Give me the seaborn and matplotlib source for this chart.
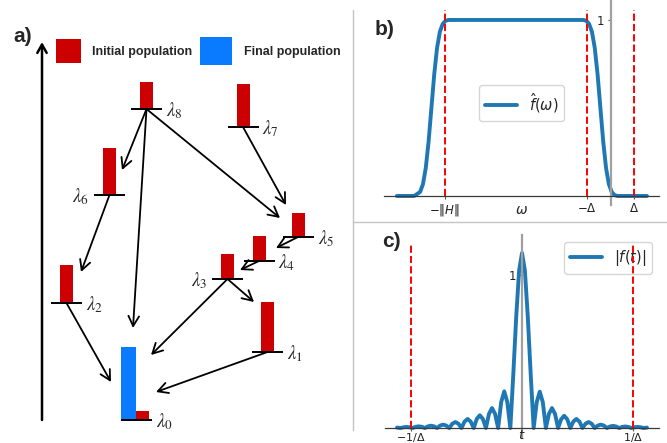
import matplotlib
matplotlib.use("Agg")
import matplotlib.pyplot as plt
from matplotlib.lines import Line2D
from matplotlib.patches import Rectangle
import seaborn as sns

# ---------------- data ----------------
# panel a: population of each eigenlevel (bar height, final ground state = 1)
level_labels = [r'$\lambda_0$', r'$\lambda_1$', r'$\lambda_2$', r'$\lambda_3$', r'$\lambda_4$',
                r'$\lambda_5$', r'$\lambda_6$', r'$\lambda_7$', r'$\lambda_8$']
initial_population = [0.12, 0.68, 0.52, 0.34, 0.34, 0.33, 0.64, 0.59, 0.37]
final_population_ground = 1.0
# decay channels (from level, to level)
transitions = [(8, 6), (8, 0), (8, 5), (7, 5), (6, 2), (2, 0), (5, 4), (4, 3), (3, 0), (3, 1), (1, 0)]

# panel b: filter in frequency domain
omega = [-9.09, -8.40, -8.34, -8.10, -7.98, -7.86, -7.74, -7.62, -7.50, -7.38, -7.26, -7.14,
         -7.02, -6.90, -1.15, -1.03, -0.91, -0.79, -0.67, -0.55, -0.43, -0.31, -0.19, -0.07,
         0.05, 0.17, 0.29, 1.55]
f_hat = [0.0, 0.0, 0.001, 0.023, 0.067, 0.159, 0.309, 0.5, 0.691, 0.841, 0.933, 0.977,
         0.995, 1.0, 1.0, 0.995, 0.977, 0.933, 0.841, 0.691, 0.5, 0.309, 0.159, 0.067,
         0.023, 0.005, 0.0, 0.0]
norm_H = 7.05
Delta = 1.0
omega_ticks = [-norm_H, -Delta, Delta]
omega_ticklabels = [r'$-\|H\|$', r'$-\Delta$', r'$\Delta$']

# panel c: modulus of the filter in time domain (t in units of 1/Delta)
t = [-1.126, -1.095, -1.0675, -1.040, -1.0125, -0.985, -0.9575, -0.930, -0.9025, -0.875,
     -0.8475, -0.820, -0.7925, -0.765, -0.7375, -0.710, -0.6825, -0.655, -0.6275, -0.600,
     -0.5725, -0.545, -0.5175, -0.490, -0.4625, -0.435, -0.4075, -0.380, -0.3525, -0.325,
     -0.2975, -0.270, -0.2425, -0.215, -0.1875, -0.160, -0.1325, -0.105, -0.079, -0.052,
     -0.026, 0.0,
     0.026, 0.052, 0.079, 0.105, 0.1325, 0.160, 0.1875, 0.215, 0.2425, 0.270,
     0.2975, 0.325, 0.3525, 0.380, 0.4075, 0.435, 0.4625, 0.490, 0.5175, 0.545,
     0.5725, 0.600, 0.6275, 0.655, 0.6825, 0.710, 0.7375, 0.765, 0.7925, 0.820,
     0.8475, 0.875, 0.9025, 0.930, 0.9575, 0.985, 1.0125, 1.040, 1.0675, 1.095, 1.126]
abs_f = [0.003, 0.0, 0.005, 0.007, 0.005, 0.0, 0.008, 0.011, 0.008, 0.0,
         0.011, 0.015, 0.011, 0.0, 0.016, 0.022, 0.016, 0.0, 0.028, 0.039,
         0.028, 0.0, 0.042, 0.059, 0.042, 0.0, 0.059, 0.083, 0.059, 0.0,
         0.092, 0.130, 0.092, 0.0, 0.169, 0.239, 0.169, 0.0, 0.342, 0.726,
         1.026, 1.14,
         1.026, 0.726, 0.342, 0.0, 0.168, 0.237, 0.168, 0.0, 0.092, 0.130,
         0.092, 0.0, 0.057, 0.080, 0.057, 0.0, 0.042, 0.059, 0.042, 0.0,
         0.028, 0.039, 0.028, 0.0, 0.016, 0.022, 0.016, 0.0, 0.010, 0.014,
         0.010, 0.0, 0.007, 0.010, 0.007, 0.0, 0.005, 0.007, 0.005, 0.0, 0.003]
t_ticks = [-1 / Delta, 1 / Delta]
t_ticklabels = [r'$-1/\Delta$', r'$1/\Delta$']

# ---------------- style ----------------
sns.set_style("white")
plt.rcParams['font.family'] = ['DejaVu Sans']
plt.rcParams['mathtext.fontset'] = 'dejavusans'

RED = '#cc0000'
BLUE = '#0a7aff'
LINE = '#1f77b4'
W, H = 667, 443

fig = plt.figure(figsize=(W / 100, H / 100), dpi=100)

# ---------------- panel a ----------------
ax_a = fig.add_axes([0, 0, 352 / W, 1])
ax_a.set_xlim(0, 352)
ax_a.set_ylim(0, H)
ax_a.axis('off')

# diagram layout: horizontal centre and energy of each level
level_x = [136, 267.5, 66.5, 227.5, 259, 298, 109.5, 243, 146.5]
level_e = [23, 91, 140, 164, 182, 206, 248, 316, 334]
label_left = [False, False, False, True, False, False, True, False, False]
arrow_tips = [(122, 273), (133, 115), (280, 225), (286, 238), (81, 171), (111, 61),
              (276, 195), (240, 173), (151, 88), (254, 141), (156, 51)]
bar_scale = 73
half_len = 15.5

# initial population bars (ground state bar sits right of centre, final bar left)
bar_x = [x + (6.5 if i == 0 else 0) for i, x in enumerate(level_x)]
ax_a.bar(bar_x, [p * bar_scale for p in initial_population], width=13,
         bottom=level_e, color=RED, zorder=2, linewidth=0)
ax_a.bar([level_x[0] - 7.5], [final_population_ground * bar_scale], width=15,
         bottom=[level_e[0]], color=BLUE, zorder=2, linewidth=0)

ax_a.hlines(level_e, [x - half_len for x in level_x], [x + half_len for x in level_x],
            color='black', lw=1.4, zorder=3)

for i, lab in enumerate(level_labels):
    if label_left[i]:
        ax_a.text(level_x[i] - half_len - 5, level_e[i] - 2, lab, ha='right', va='center',
                  fontsize=13.5, math_fontfamily='stix')
    else:
        ax_a.text(level_x[i] + half_len + 4, level_e[i] - 2, lab, ha='left', va='center',
                  fontsize=13.5, math_fontfamily='stix')

for (src, dst), tip in zip(transitions, arrow_tips):
    ax_a.annotate('', xy=tip, xytext=(level_x[src], level_e[src]),
                  arrowprops=dict(arrowstyle='->,head_length=0.6,head_width=0.32',
                                  lw=1.3, color='black', shrinkA=0, shrinkB=0,
                                  mutation_scale=12), zorder=4)

# energy axis
ax_a.annotate('', xy=(42, H - 42), xytext=(42, H - 420),
              arrowprops=dict(arrowstyle='->,head_length=0.5,head_width=0.28',
                              lw=1.8, color='black', shrinkA=0, shrinkB=0,
                              mutation_scale=12))

# population key
ax_a.add_patch(Rectangle((56, H - 63), 25, 24, color=RED, lw=0))
ax_a.text(92, H - 52, 'Initial population', fontsize=9, fontweight='bold',
          family='Liberation Sans', va='center', ha='left')
ax_a.add_patch(Rectangle((200, H - 65), 32, 28, color=BLUE, lw=0))
ax_a.text(244, H - 52, 'Final population', fontsize=9, fontweight='bold',
          family='Liberation Sans', va='center', ha='left')


def centre_axes(ax, pad):
    for side in ('top', 'right'):
        ax.spines[side].set_visible(False)
    ax.spines['left'].set_position(('data', 0))
    ax.spines['bottom'].set_position(('data', 0))
    ax.spines['left'].set_color('#a0a0a0')
    ax.spines['left'].set_linewidth(1.6)
    ax.spines['bottom'].set_color('#3a3a3a')
    ax.spines['bottom'].set_linewidth(0.9)
    ax.tick_params(bottom=True, left=True, length=2.5, width=0.8, pad=2,
                   labelsize=8.5, color='#555555', labelcolor='#222222')
    ax.tick_params(axis='x', pad=pad)


# ---------------- panel b ----------------
ax_b = fig.add_axes([384.4 / W, (H - 205.3) / H, 275 / W, 204.7 / H])
sns.lineplot(x=omega, y=f_hat, ax=ax_b, color=LINE, lw=2.8, label=r'$\hat{f}(\omega)$')
ax_b.vlines(omega_ticks, 0, 1.057, colors='red', linestyles='--', lw=1.4, zorder=3)
ax_b.set_xlim(-9.62, 2.08)
ax_b.set_ylim(-0.053, 1.11)
centre_axes(ax_b, pad=1.5)
ax_b.set_xticks(omega_ticks)
ax_b.set_xticklabels(omega_ticklabels)
ax_b.set_yticks([1])
ax_b.set_yticklabels(['1'])
ax_b.set_xlabel('')
ax_b.set_ylabel('')
ax_b.text(0.5, -0.025, r'$\omega$', transform=ax_b.transAxes, ha='center', va='center',
          fontsize=10)
ax_b.legend(loc='center', fontsize=10.5, handlelength=2.2)

# ---------------- panel c ----------------
ax_c = fig.add_axes([384.9 / W, (H - 437.7) / H, 274.2 / W, 203.1 / H])
sns.lineplot(x=t, y=abs_f, ax=ax_c, color=LINE, lw=2.8, label=r'$|f(t)|$')
ax_c.vlines(t_ticks, 0, 1.2, colors='red', linestyles='--', lw=1.4, zorder=6)
ax_c.set_xlim(-1.235, 1.235)
ax_c.set_ylim(-0.063, 1.26)
centre_axes(ax_c, pad=0.3)
ax_c.tick_params(axis='x', labelsize=8, length=2)
ax_c.set_xticks(t_ticks)
ax_c.set_xticklabels(t_ticklabels)
ax_c.set_yticks([1])
ax_c.set_yticklabels(['1'])
ax_c.set_xlabel('')
ax_c.set_ylabel('')
ax_c.text(0.5, -0.007, r'$t$', transform=ax_c.transAxes, ha='center', va='baseline',
          fontsize=9.5)
ax_c.legend(loc='upper right', fontsize=10.5, handlelength=2.2)

# ---------------- panel letters and separators ----------------
for letter, px, py in (('a)', 13, 42), ('b)', 375, 35), ('c)', 382, 247)):
    fig.text(px / W, 1 - py / H, letter, fontsize=15, fontweight='bold',
             family='Liberation Sans', ha='left', va='baseline')

fig.add_artist(Line2D([352.5 / W, 352.5 / W], [1 - 10 / H, 1 - 430 / H],
                      color='#c4c4c4', lw=1.0))
fig.add_artist(Line2D([352.5 / W, 1], [1 - 221.5 / H, 1 - 221.5 / H],
                      color='#c4c4c4', lw=1.0))

fig.savefig('out.png', dpi=100)
